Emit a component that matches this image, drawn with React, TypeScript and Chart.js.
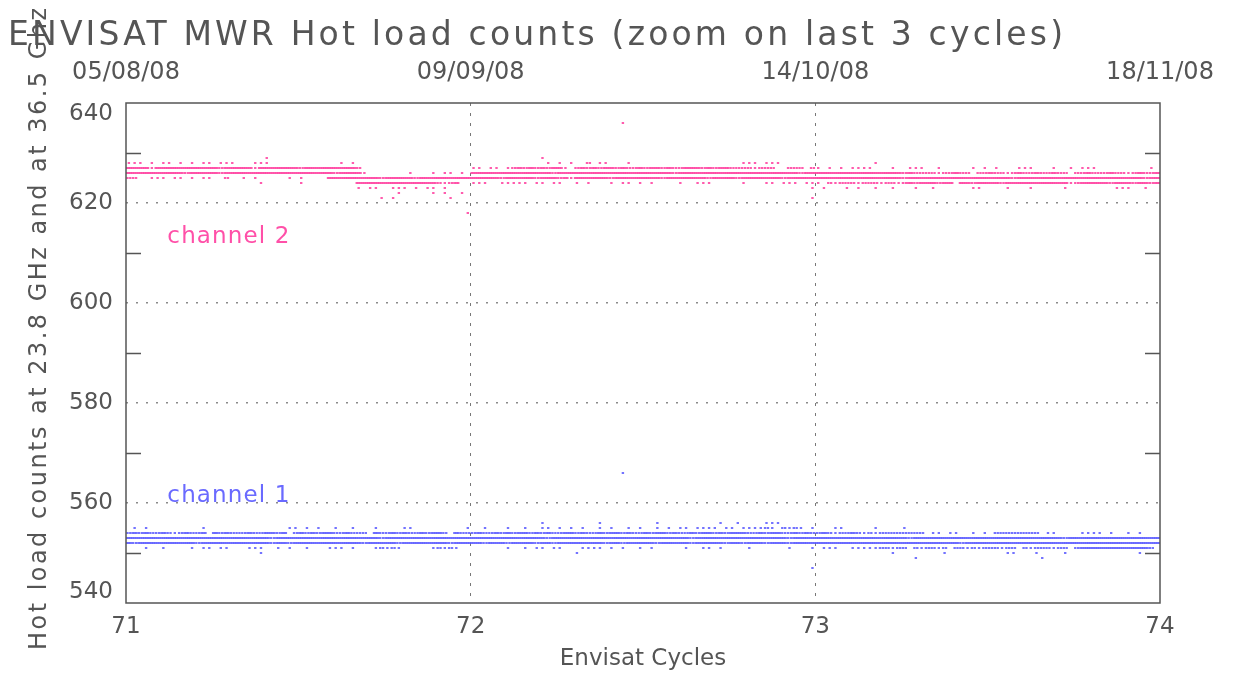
import React, { useEffect, useRef } from 'react';
import { Chart, registerables } from 'chart.js';

Chart.register(...registerables);

// ---------------- data ----------------
const TITLE = 'ENVISAT MWR Hot load counts (zoom on last 3 cycles)';
const Y_TITLE = 'Hot load counts at 23.8 GHz and at 36.5 Ghz';
const X_TITLE = 'Envisat Cycles';
const X_TICKS = [71, 72, 73, 74];
const DATE_LABELS = ['05/08/08', '09/09/08', '14/10/08', '18/11/08'];
const Y_MIN = 540;
const Y_MAX = 640;
const CYCLES = [71, 72, 73];
const BINS_PER_CYCLE = 60;

// Each row: one count level; one string per cycle, 6 groups of 10 bins ('|' separated).
// ' ' = no sample, '.' = 1 sample, ':' = 2 samples, '#' = 3 samples in the bin.
const CH2_LEVELS = [636, 629, 628, 627, 626, 625, 624, 623, 622, 621, 618];
const CH2_ROWS = [
  ['', '||      .', ''],
  ['||    .', '|  .', ''],
  ['... . .. .| . .. ... |  ...     |       . .', '|   . . .  |: ..   .||       ...| ...', '|.'],
  ['####.#####|######:###|##.#######|:#########|:|', '.. .. .:#:|#:#:##. :#|:#:##:#::#|:##:#::###|:#:##::::.|:::  ::: :', '. . . ....|   .  ... | .     . .| .   ...  | .  . ... |        .'],
  ['##########|:#####:###|##########|######:###|#.       .|   . .. .', '##########|####:#####|##########|#####:####|##########|#######:##', '##########|#####:#:::|:.::#:: ::|#::.:#::#:|:#:: ::#::|:#::.:#::#'],
  ['::  ... ..| . ..  :  |. .     . |.    #####|####:#####|:#########', '#####:####|#:###:#.##|####:#####|###:######|#:####:###|####:#####', '##########|#####:####|##########|####:#####|##########|#######:##'],
  ['||   .|.|##########|####:.:#', '...  .....| .. ..  . |.   . .. .| .    .  .|..     .  | .. ... ..', '. :.:::.::|:.::.:#:##|#:## ##:##|##:#######|####.:####|#:###:##:#'],
  ['||||. ..  ...|. .. .', '|||||         .', ' .   . .  |.  .   .  |.      .. |   .   .  |   .|  ...  .'],
  ['||||       .|   . .  .', '', ''],
  ['||||    . .|      .', '|||||         .', ''],
  ['|||||         .', '', ''],
];

const CH1_LEVELS = [566, 556, 555, 554, 553, 552, 551, 550, 549, 547];
const CH1_ROWS = [
  ['', '||      .', ''],
  ['', '|  .|  .|  .|   .  .| ...', ''],
  [' . .|   .|        ..| . .  .  .|   .    ..|         .', '  .   .  .|  .. . . .|  . .  . .|  . . .. .|... .. ...|.:. :.:. .', '   ..|.    .'],
  [':#:#::#:.:|#::# #:#::|:#::##:# :|#:#:##::#:|:: #::#:#:|:#:##: #::', ':#::#:#:##|:#:#::##:#|::#:##:#::|#:##:#::#:|##:#:###::|#:##::#:#:', ':#:.::#:.:|.:::::::: |.. ..  . .| :::::::: |..    ....| .  . .'],
  ['##########|##########|#####:####|##########|####:#####|##########', '##########|###:######|##########|########:#|##########|#####:####', '##########|######:###|##########|##########|###:######|##########'],
  ['#:########|##:#######|#####:##:#|##########|#:#####:##|######:###', '##:###:###|#:##:#####|###:##:###|##:#####:#|####:##:##|#:###:####', '##########|##########|#####:####|##########|##########|##########'],
  ['   .  .   | . .. ..  | ...  . . | .   ... .|   .:.:.  |   .:.:.  ', '      .  .| .. ..   .|... . .  .| .     .  |.. .    . |     .   .', ' ...  ....|.::.:: :.:|:.: ::.:.:|::.:: :.::|:.:: :####|########: '],
  ['||   .', '|        .', '|   .|  .|   ..   .|   .|      .'],
  ['', '', '|       .||         .'],
  ['', '|||||         .', ''],
];

const LABEL_TEXTS = ['channel 1', 'channel 2'];
const LABEL_X = [71.12, 71.12];
const LABEL_Y = [561.3, 613.1];

// ---------------- styles ----------------
const CH1_COLOR = '#5050ff';
const CH2_COLOR = '#ff3399';
const CH1_TEXT = '#6a6aff';
const CH2_TEXT = '#ff50a8';
const TEXT_COLOR = '#555555';
const FONT = 'DejaVu Sans';

function decode(levels: number[], rows: string[][]) {
  const out: { x: number; y: number }[] = [];
  levels.forEach((level, li) => {
    rows[li].forEach((seg, ci) => {
      const groups = seg.split('|');
      groups.forEach((g, gi) => {
        for (let j = 0; j < Math.min(g.length, 10); j++) {
          const ch = g[j];
          const n = ch === '#' ? 3 : ch === ':' ? 2 : ch === '.' ? 1 : 0;
          const bin = gi * 10 + j;
          for (let k = 0; k < n; k++) {
            out.push({ x: CYCLES[ci] + (bin + (k + 0.5) / n) / BINS_PER_CYCLE, y: level });
          }
        }
      });
    });
  });
  return out;
}

function fitText(ctx: CanvasRenderingContext2D, text: string, x: number, y: number, width: number) {
  (ctx as any).letterSpacing = '0px';
  const w = ctx.measureText(text).width;
  const sp = (width - w) / Math.max(1, text.length - 1);
  (ctx as any).letterSpacing = sp + 'px';
  ctx.fillText(text, x, y);
  (ctx as any).letterSpacing = '0px';
}

const decorPlugin = {
  id: 'decor',
  afterDraw(chart: any) {
    const { ctx, chartArea: a, scales } = chart;
    const ys = scales.y;
    const xs = scales.x;
    ctx.save();
    // minor ticks (inward, both sides)
    ctx.strokeStyle = '#555';
    ctx.lineWidth = 1.5;
    ys.ticks.forEach((t: any) => {
      if (t.value % 20 === 0) return;
      const py = Math.round(ys.getPixelForValue(t.value)) + 0.5;
      ctx.beginPath();
      ctx.moveTo(a.left, py);
      ctx.lineTo(a.left + 15, py);
      ctx.moveTo(a.right - 15, py);
      ctx.lineTo(a.right, py);
      ctx.stroke();
    });
    // frame
    ctx.strokeStyle = '#555';
    ctx.lineWidth = 1.5;
    ctx.strokeRect(a.left, a.top, a.right - a.left, a.bottom - a.top);

    // main title
    ctx.fillStyle = TEXT_COLOR;
    ctx.font = `33px ${FONT}`;
    ctx.textAlign = 'left';
    ctx.textBaseline = 'alphabetic';
    fitText(ctx, TITLE, 8, 45, 1055);

    // y title (rotated)
    ctx.save();
    ctx.translate(40, 329);
    ctx.rotate(-Math.PI / 2);
    ctx.font = `24px ${FONT}`;
    ctx.textBaseline = 'middle';
    ctx.textAlign = 'left';
    fitText(ctx, Y_TITLE, -321, 0, 642);
    ctx.restore();

    // channel labels
    ctx.font = `23px ${FONT}`;
    ctx.textBaseline = 'middle';
    ctx.textAlign = 'left';
    LABEL_TEXTS.forEach((txt, i) => {
      ctx.fillStyle = i === 0 ? CH1_TEXT : CH2_TEXT;
      fitText(ctx, txt, xs.getPixelForValue(LABEL_X[i]), ys.getPixelForValue(LABEL_Y[i]), 122);
    });
    ctx.restore();
  },
};

export default function App() {
  const ref = useRef<HTMLCanvasElement>(null);
  useEffect(() => {
    document.body.style.margin = '0';
    const ch1 = decode(CH1_LEVELS, CH1_ROWS);
    const ch2 = decode(CH2_LEVELS, CH2_ROWS);
    const pointOpts = { pointStyle: 'line', pointRadius: 1.2, pointHoverRadius: 1.2, pointBorderWidth: 1.6, showLine: false };
    const chart = new Chart(ref.current!, {
      type: 'scatter',
      data: {
        datasets: [
          { label: 'channel 1', data: ch1, borderColor: CH1_COLOR, backgroundColor: CH1_COLOR, ...pointOpts } as any,
          { label: 'channel 2', data: ch2, borderColor: CH2_COLOR, backgroundColor: CH2_COLOR, ...pointOpts } as any,
        ],
      },
      options: {
        responsive: false,
        animation: false,
        devicePixelRatio: 1,
        layout: { padding: { left: 0, right: 75, top: 0, bottom: 0 } },
        plugins: { legend: { display: false }, tooltip: { enabled: false }, title: { display: false } },
        scales: {
          x: {
            type: 'linear',
            position: 'bottom',
            min: X_TICKS[0],
            max: X_TICKS[X_TICKS.length - 1],
            afterBuildTicks: (s: any) => { s.ticks = X_TICKS.map((v) => ({ value: v })); },
            ticks: { color: TEXT_COLOR, font: { family: FONT, size: 23 }, padding: 10, maxRotation: 0, callback: (v: any) => String(v) },
            grid: {
              drawTicks: false,
              lineWidth: 1,
              color: (c: any) => (c.tick && (c.tick.value === 72 || c.tick.value === 73) ? '#777' : 'rgba(0,0,0,0)'),
            },
            border: { display: false, dash: [3, 7] },
            title: { display: true, text: X_TITLE, color: TEXT_COLOR, font: { family: FONT, size: 23 }, padding: { top: 0, bottom: 0 } },
            afterFit: (s: any) => { s.height = 70; },
          },
          x2: {
            type: 'linear',
            position: 'top',
            min: X_TICKS[0],
            max: X_TICKS[X_TICKS.length - 1],
            afterBuildTicks: (s: any) => { s.ticks = X_TICKS.map((v) => ({ value: v })); },
            ticks: {
              color: TEXT_COLOR,
              font: { family: FONT, size: 24 },
              padding: 16,
              maxRotation: 0,
              callback: (v: any) => DATE_LABELS[X_TICKS.indexOf(Number(v))] ?? '',
            },
            grid: { display: false, drawTicks: false },
            border: { display: false },
            afterFit: (s: any) => { s.height = 103; },
          },
          y: {
            type: 'linear',
            min: Y_MIN,
            max: Y_MAX,
            ticks: {
              stepSize: 5,
              maxTicksLimit: 100,
              color: TEXT_COLOR,
              font: { family: FONT, size: 23, lineHeight: 0.95 },
              padding: 13,
              // extreme labels are nudged inside the frame (as in the original plot)
              callback: (v: any) => {
                const n = Number(v);
                if (n % 20 !== 0) return '';
                if (n === Y_MAX) return ['', String(n)];
                if (n === Y_MIN) return [String(n), ''];
                return String(n);
              },
            },
            grid: {
              drawTicks: false,
              lineWidth: 1.5,
              color: (c: any) => {
                const v = c.tick ? c.tick.value : 0;
                return v % 20 === 0 && v > Y_MIN && v < Y_MAX ? '#8a8a8a' : 'rgba(0,0,0,0)';
              },
            },
            border: { display: false, dash: [2, 8] },
            afterFit: (s: any) => { s.width = 126; },
          },
        },
      } as any,
      plugins: [decorPlugin],
    });
    return () => chart.destroy();
  }, []);
  return (
    <div style={{ position: 'absolute', left: 0, top: 0, width: 1235, height: 673, background: '#fff' }}>
      <canvas ref={ref} width={1235} height={673} style={{ display: 'block' }} />
    </div>
  );
}
